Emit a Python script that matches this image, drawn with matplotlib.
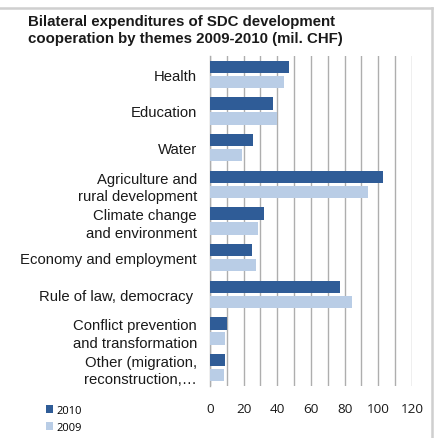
import matplotlib.pyplot as plt
from matplotlib.patches import Patch
from matplotlib.lines import Line2D
from matplotlib.ticker import MultipleLocator

# data
themes = ["Health", "Education", "Water", "Agriculture and\nrural development",
          "Climate change\nand environment", "Economy and employment",
          "Rule of law, democracy ", "Conflict prevention\nand transformation",
          "Other (migration,\nreconstruction,\u2026"]
val_2010 = [47, 37.5, 25.5, 102.5, 32, 25, 77.5, 10, 9]
val_2009 = [44, 40, 19, 94, 28.5, 27.5, 84.5, 9, 8.3]
years = ["2010", "2009"]

c2010 = "#2F5C97"
c2009 = "#B9CDE6"

W, H = 435, 439
fig = plt.figure(figsize=(W / 100, H / 100), dpi=100)

ax = fig.add_axes([210 / W, 1 - 387 / H, 202 / W, 330 / H])

n = len(themes)
ys = list(range(n))
bh = 0.33
off = 0.205
ax.barh([y - off for y in ys], val_2010, height=bh, color=c2010, zorder=3)
ax.barh([y + off for y in ys], val_2009, height=bh, color=c2009, zorder=3)

ax.set_ylim(n - 0.5, -0.5)
ax.set_xlim(0, 120)
ax.xaxis.set_major_locator(MultipleLocator(20))
ax.xaxis.set_minor_locator(MultipleLocator(10))
ax.grid(True, axis="x", which="both", color="#AEAEAE", linewidth=1, zorder=0)
ax.set_yticks(ys)
ax.set_yticklabels(themes, family="Liberation Sans", fontsize=10.7,
                   linespacing=1.3, color="#1a1a1a")
for lab in ax.get_xticklabels():
    lab.set_family("Open Sans")
    lab.set_fontsize(9.7)
    lab.set_color("#1a1a1a")
ax.tick_params(axis="both", which="both", length=0)
ax.tick_params(axis="y", pad=9.4)
ax.tick_params(axis="x", pad=11.5)
for s in ["top", "right", "bottom"]:
    ax.spines[s].set_visible(False)
ax.spines["left"].set_color("#AEAEAE")
ax.spines["left"].set_linewidth(1)

fig.text(28 / W, 1 - 15 / H,
         "Bilateral expenditures of SDC development\ncooperation by themes 2009-2010 (mil. CHF)",
         family="Liberation Sans", fontweight="bold", fontsize=10.8,
         linespacing=1.3, va="top", ha="left", color="#1a1a1a")

handles = [Patch(facecolor=c2010, edgecolor="none"),
           Patch(facecolor=c2009, edgecolor="none")]
fig.legend(handles, years, loc="upper left", bbox_to_anchor=(40 / W, 1 - 400 / H),
           frameon=False, prop={"family": "Open Sans", "size": 8},
           handlelength=0.7, handleheight=0.7, handletextpad=0.25,
           labelspacing=0.55, borderpad=0)

# outer chart frame (top and right edges visible)
fig.add_artist(Line2D([0, 432 / W], [1 - 9 / H, 1 - 9 / H], color="#CFCFCF", lw=1.8))
fig.add_artist(Line2D([432 / W, 432 / W], [1 - 9 / H, 0], color="#CFCFCF", lw=1.8))

fig.savefig("out.png", dpi=100)
